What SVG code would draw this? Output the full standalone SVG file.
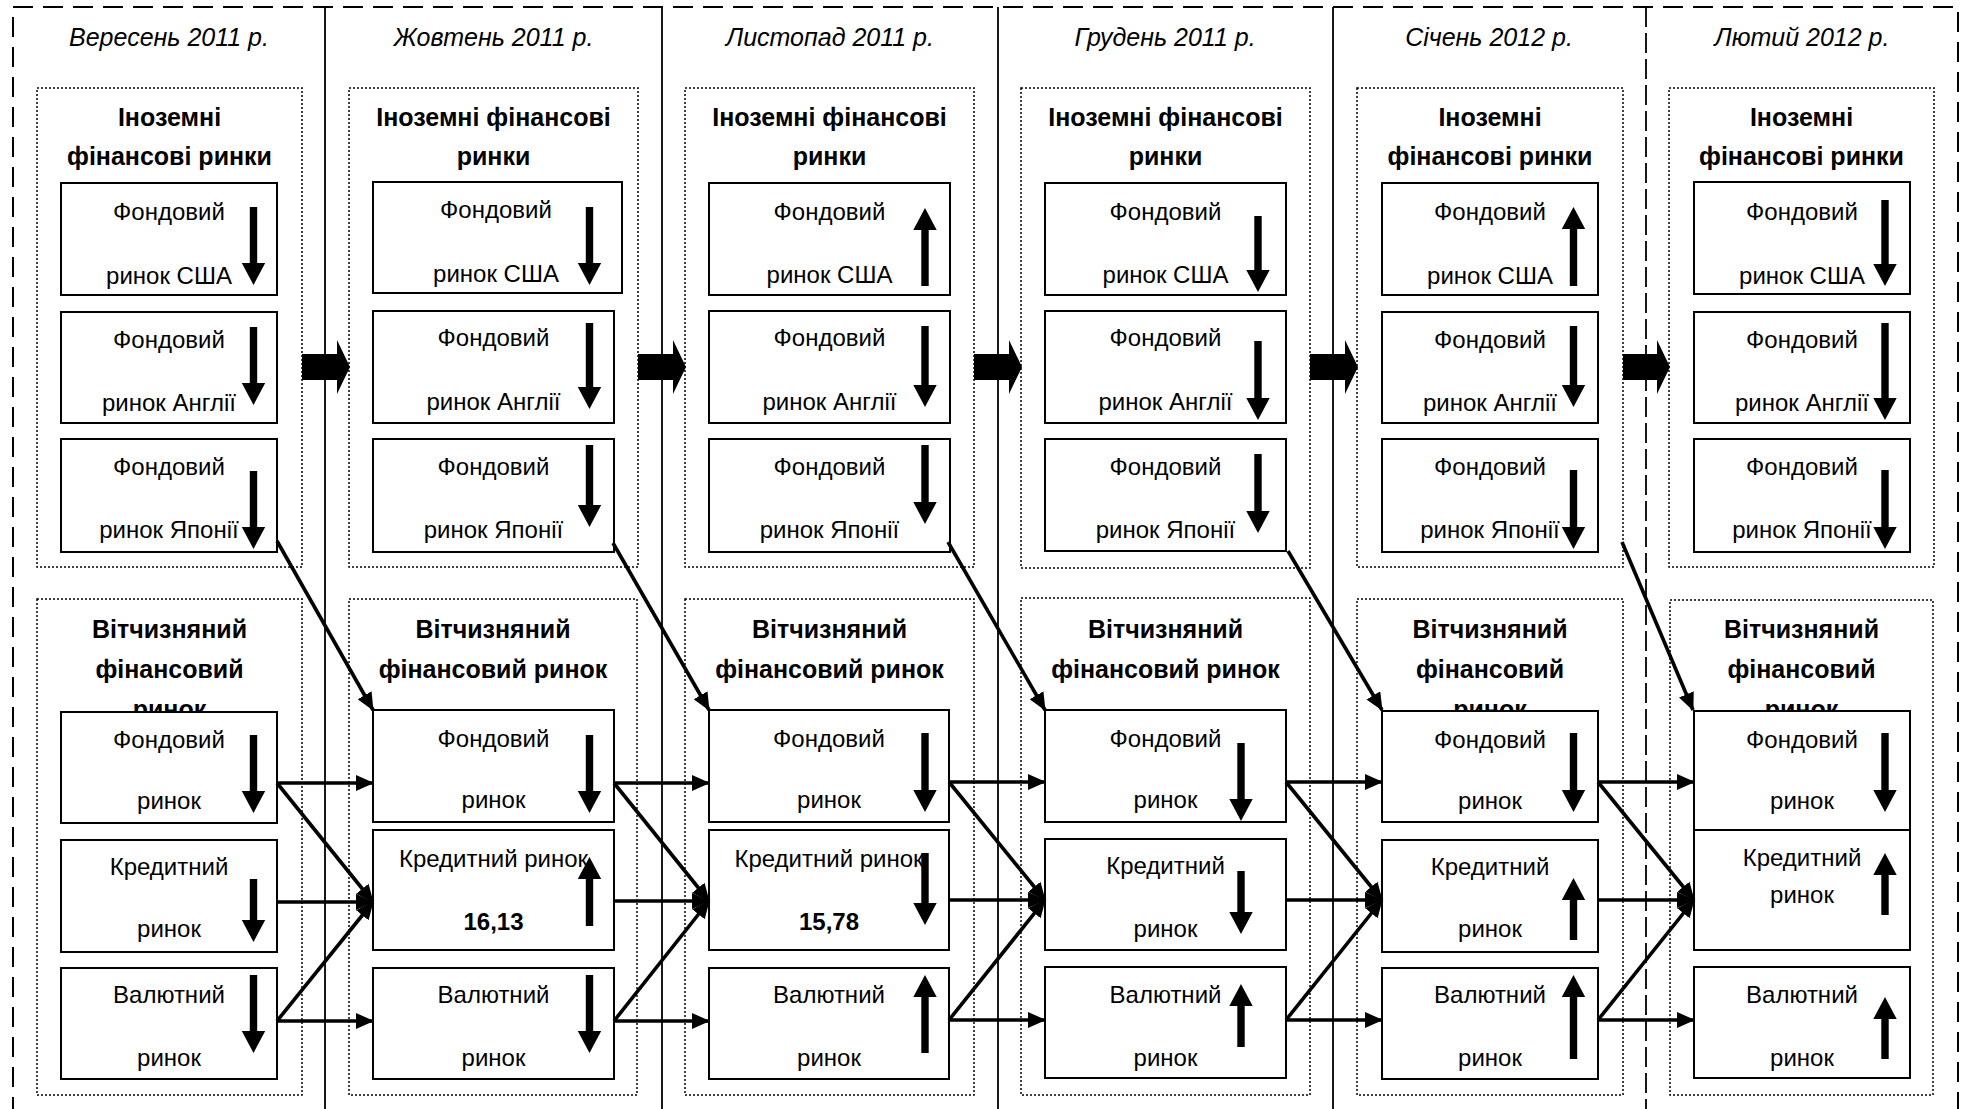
<svg xmlns="http://www.w3.org/2000/svg" width="1966" height="1109" viewBox="0 0 1966 1109">
<style>
text{font-family:"Liberation Sans",Arial,sans-serif;fill:#000;text-anchor:middle}
.hdr{font-size:25px;font-style:italic}
.ttl{font-size:25px;font-weight:bold}
.txt{font-size:24px}
.num{font-size:24px;font-weight:bold}
.box{fill:#fff;stroke:#000;stroke-width:2}
.grp{fill:none;stroke:#000;stroke-width:1.5;stroke-dasharray:2 2}
.tr{fill:#000}
.big{fill:#000}
.conn{stroke:#000;stroke-width:3.6;fill:none;marker-end:url(#ah)}
</style>
<defs>
<marker id="ah" markerUnits="userSpaceOnUse" markerWidth="18" markerHeight="16" refX="17" refY="8" orient="auto">
<path d="M0,0 L18,8 L0,16 z" fill="#000"/>
</marker>
</defs>
<rect fill="#fff" x="0" y="0" width="1966" height="1109"/>
<g id="frame">
<rect x="13" y="7" width="1945" height="1130" fill="none" stroke="#000" stroke-width="2" stroke-dasharray="20 10"/>
<line x1="325" y1="7" x2="325" y2="1109" stroke="#000" stroke-width="1.8"/>
<line x1="662" y1="7" x2="662" y2="1109" stroke="#000" stroke-width="1.8"/>
<line x1="998" y1="7" x2="998" y2="1109" stroke="#000" stroke-width="1.8"/>
<line x1="1333" y1="7" x2="1333" y2="1109" stroke="#000" stroke-width="1.8"/>
<line x1="1646" y1="7" x2="1646" y2="1109" stroke="#000" stroke-width="1.8" stroke-dasharray="20 6"/>
</g>

<!-- Column 1 -->
<g id="col1">
<text class="hdr" x="169" y="46">Вересень 2011 р.</text>
<g id="c1-foreign">
<rect class="grp" x="37" y="88" width="265" height="479"/>
<text class="ttl" x="169.5" y="126">Іноземні</text>
<text class="ttl" x="169.5" y="165">фінансові ринки</text>
</g>
<g id="c1-usa"><rect class="box" x="61" y="183" width="216" height="112"/><text class="txt" x="169" y="220">Фондовий</text><text class="txt" x="169" y="284">ринок США</text><path class="tr" d="M249.8,207 h7.4 V263 h8 l-11.7,22 l-11.7,-22 h8 z"/></g>
<g id="c1-eng"><rect class="box" x="61" y="312" width="216" height="111"/><text class="txt" x="169" y="348">Фондовий</text><text class="txt" x="169" y="411">ринок Англії</text><path class="tr" d="M249.8,327 h7.4 V383 h8 l-11.7,22 l-11.7,-22 h8 z"/></g>
<g id="c1-jap"><rect class="box" x="61" y="439" width="216" height="113"/><text class="txt" x="169" y="475">Фондовий</text><text class="txt" x="169" y="538">ринок Японії</text><path class="tr" d="M249.8,471 h7.4 V527 h8 l-11.7,22 l-11.7,-22 h8 z"/></g>
<g id="c1-domestic">
<rect class="grp" x="37" y="599" width="265" height="496"/>
<text class="ttl" x="169.5" y="638">Вітчизняний</text>
<text class="ttl" x="169.5" y="678">фінансовий</text>
<text class="ttl" x="169.5" y="718">ринок</text>
</g>
<g id="c1-fond"><rect class="box" x="61" y="712" width="216" height="111"/><text class="txt" x="169" y="748">Фондовий</text><text class="txt" x="169" y="809">ринок</text><path class="tr" d="M249.8,735 h7.4 V791 h8 l-11.7,22 l-11.7,-22 h8 z"/></g>
<g id="c1-kred"><rect class="box" x="61" y="840" width="216" height="112"/><text class="txt" x="169" y="875">Кредитний</text><text class="txt" x="169" y="937">ринок</text><path class="tr" d="M249.8,879 h7.4 V920 h8 l-11.7,22 l-11.7,-22 h8 z"/></g>
<g id="c1-val"><rect class="box" x="61" y="968" width="216" height="111"/><text class="txt" x="169" y="1003">Валютний</text><text class="txt" x="169" y="1066">ринок</text><path class="tr" d="M249.8,975 h7.4 V1031 h8 l-11.7,22 l-11.7,-22 h8 z"/></g>
</g>

<!-- Column 2 -->
<g id="col2">
<text class="hdr" x="493.5" y="46">Жовтень 2011 р.</text>
<g id="c2-foreign">
<rect class="grp" x="349" y="88" width="289" height="479"/>
<text class="ttl" x="493.5" y="126">Іноземні фінансові</text>
<text class="ttl" x="493.5" y="165">ринки</text>
</g>
<g id="c2-usa"><rect class="box" x="373" y="182" width="249" height="111"/><text class="txt" x="496" y="218">Фондовий</text><text class="txt" x="496" y="282">ринок США</text><path class="tr" d="M585.8,207 h7.4 V263 h8 l-11.7,22 l-11.7,-22 h8 z"/></g>
<g id="c2-eng"><rect class="box" x="373" y="311" width="241" height="112"/><text class="txt" x="493.5" y="346">Фондовий</text><text class="txt" x="493.5" y="410">ринок Англії</text><path class="tr" d="M585.8,323 h7.4 V387 h8 l-11.7,22 l-11.7,-22 h8 z"/></g>
<g id="c2-jap"><rect class="box" x="373" y="439" width="241" height="113"/><text class="txt" x="493.5" y="475">Фондовий</text><text class="txt" x="493.5" y="538">ринок Японії</text><path class="tr" d="M585.8,445 h7.4 V505 h8 l-11.7,22 l-11.7,-22 h8 z"/></g>
<g id="c2-domestic">
<rect class="grp" x="349" y="599" width="288" height="496"/>
<text class="ttl" x="493" y="638">Вітчизняний</text>
<text class="ttl" x="493" y="678">фінансовий ринок</text>
</g>
<g id="c2-fond"><rect class="box" x="373" y="710" width="241" height="112"/><text class="txt" x="493.5" y="747">Фондовий</text><text class="txt" x="493.5" y="808">ринок</text><path class="tr" d="M585.8,735 h7.4 V791 h8 l-11.7,22 l-11.7,-22 h8 z"/></g>
<g id="c2-kred"><rect class="box" x="373" y="830" width="241" height="120"/><text class="txt" x="493.5" y="867">Кредитний ринок</text><text class="num" x="493.5" y="930">16,13</text><path class="tr" d="M589.5,857 l11.7,22 h-8 V926 h-7.4 V879 h-8 z"/></g>
<g id="c2-val"><rect class="box" x="373" y="968" width="241" height="111"/><text class="txt" x="493.5" y="1003">Валютний</text><text class="txt" x="493.5" y="1066">ринок</text><path class="tr" d="M585.8,975 h7.4 V1031 h8 l-11.7,22 l-11.7,-22 h8 z"/></g>
</g>

<!-- Column 3 -->
<g id="col3">
<text class="hdr" x="830" y="46">Листопад 2011 р.</text>
<g id="c3-foreign">
<rect class="grp" x="685" y="88" width="289" height="479"/>
<text class="ttl" x="829.5" y="126">Іноземні фінансові</text>
<text class="ttl" x="829.5" y="165">ринки</text>
</g>
<g id="c3-usa"><rect class="box" x="709" y="183" width="241" height="112"/><text class="txt" x="829.5" y="220">Фондовий</text><text class="txt" x="829.5" y="283">ринок США</text><path class="tr" d="M925,208 l11.7,22 h-8 V286 h-7.4 V230 h-8 z"/></g>
<g id="c3-eng"><rect class="box" x="709" y="311" width="241" height="112"/><text class="txt" x="829.5" y="346">Фондовий</text><text class="txt" x="829.5" y="410">ринок Англії</text><path class="tr" d="M921.3,326 h7.4 V385 h8 l-11.7,22 l-11.7,-22 h8 z"/></g>
<g id="c3-jap"><rect class="box" x="709" y="439" width="241" height="113"/><text class="txt" x="829.5" y="475">Фондовий</text><text class="txt" x="829.5" y="538">ринок Японії</text><path class="tr" d="M921.3,445 h7.4 V502 h8 l-11.7,22 l-11.7,-22 h8 z"/></g>
<g id="c3-domestic">
<rect class="grp" x="685" y="599" width="289" height="496"/>
<text class="ttl" x="829.5" y="638">Вітчизняний</text>
<text class="ttl" x="829.5" y="678">фінансовий ринок</text>
</g>
<g id="c3-fond"><rect class="box" x="709" y="710" width="240" height="112"/><text class="txt" x="829" y="747">Фондовий</text><text class="txt" x="829" y="808">ринок</text><path class="tr" d="M921.3,733 h7.4 V790 h8 l-11.7,22 l-11.7,-22 h8 z"/></g>
<g id="c3-kred"><rect class="box" x="709" y="830" width="240" height="120"/><text class="txt" x="829" y="867">Кредитний ринок</text><text class="num" x="829" y="930">15,78</text><path class="tr" d="M921.3,853 h7.4 V903 h8 l-11.7,22 l-11.7,-22 h8 z"/></g>
<g id="c3-val"><rect class="box" x="709" y="968" width="240" height="111"/><text class="txt" x="829" y="1003">Валютний</text><text class="txt" x="829" y="1066">ринок</text><path class="tr" d="M925,975 l11.7,22 h-8 V1053 h-7.4 V997 h-8 z"/></g>
</g>

<!-- Column 4 -->
<g id="col4">
<text class="hdr" x="1165" y="46">Грудень 2011 р.</text>
<g id="c4-foreign">
<rect class="grp" x="1021" y="88" width="289" height="480"/>
<text class="ttl" x="1165.5" y="126">Іноземні фінансові</text>
<text class="ttl" x="1165.5" y="165">ринки</text>
</g>
<g id="c4-usa"><rect class="box" x="1045" y="183" width="241" height="112"/><text class="txt" x="1165.5" y="220">Фондовий</text><text class="txt" x="1165.5" y="283">ринок США</text><path class="tr" d="M1254.3,216 h7.4 V270 h8 l-11.7,22 l-11.7,-22 h8 z"/></g>
<g id="c4-eng"><rect class="box" x="1045" y="311" width="241" height="112"/><text class="txt" x="1165.5" y="346">Фондовий</text><text class="txt" x="1165.5" y="410">ринок Англії</text><path class="tr" d="M1254.3,341 h7.4 V398 h8 l-11.7,22 l-11.7,-22 h8 z"/></g>
<g id="c4-jap"><rect class="box" x="1045" y="439" width="241" height="112"/><text class="txt" x="1165.5" y="475">Фондовий</text><text class="txt" x="1165.5" y="538">ринок Японії</text><path class="tr" d="M1254.3,454 h7.4 V511 h8 l-11.7,22 l-11.7,-22 h8 z"/></g>
<g id="c4-domestic">
<rect class="grp" x="1021" y="598" width="289" height="497"/>
<text class="ttl" x="1165.5" y="638">Вітчизняний</text>
<text class="ttl" x="1165.5" y="678">фінансовий ринок</text>
</g>
<g id="c4-fond"><rect class="box" x="1045" y="710" width="241" height="112"/><text class="txt" x="1165.5" y="747">Фондовий</text><text class="txt" x="1165.5" y="808">ринок</text><path class="tr" d="M1237.3,743 h7.4 V799 h8 l-11.7,22 l-11.7,-22 h8 z"/></g>
<g id="c4-kred"><rect class="box" x="1045" y="839" width="241" height="111"/><text class="txt" x="1165.5" y="874">Кредитний</text><text class="txt" x="1165.5" y="937">ринок</text><path class="tr" d="M1237.3,871 h7.4 V912 h8 l-11.7,22 l-11.7,-22 h8 z"/></g>
<g id="c4-val"><rect class="box" x="1045" y="967" width="241" height="111"/><text class="txt" x="1165.5" y="1003">Валютний</text><text class="txt" x="1165.5" y="1066">ринок</text><path class="tr" d="M1241,984 l11.7,22 h-8 V1047 h-7.4 V1006 h-8 z"/></g>
</g>

<!-- Column 5 -->
<g id="col5">
<text class="hdr" x="1489" y="46">Січень 2012 р.</text>
<g id="c5-foreign">
<rect class="grp" x="1357" y="88" width="266" height="479"/>
<text class="ttl" x="1490" y="126">Іноземні</text>
<text class="ttl" x="1490" y="165">фінансові ринки</text>
</g>
<g id="c5-usa"><rect class="box" x="1382" y="183" width="216" height="112"/><text class="txt" x="1490" y="220">Фондовий</text><text class="txt" x="1490" y="284">ринок США</text><path class="tr" d="M1573.5,207 l11.7,22 h-8 V286 h-7.4 V229 h-8 z"/></g>
<g id="c5-eng"><rect class="box" x="1382" y="312" width="216" height="111"/><text class="txt" x="1490" y="348">Фондовий</text><text class="txt" x="1490" y="411">ринок Англії</text><path class="tr" d="M1569.8,326 h7.4 V385 h8 l-11.7,22 l-11.7,-22 h8 z"/></g>
<g id="c5-jap"><rect class="box" x="1382" y="439" width="216" height="113"/><text class="txt" x="1490" y="475">Фондовий</text><text class="txt" x="1490" y="538">ринок Японії</text><path class="tr" d="M1569.8,470 h7.4 V527 h8 l-11.7,22 l-11.7,-22 h8 z"/></g>
<g id="c5-domestic">
<rect class="grp" x="1357" y="599" width="266" height="496"/>
<text class="ttl" x="1490" y="638">Вітчизняний</text>
<text class="ttl" x="1490" y="678">фінансовий</text>
<text class="ttl" x="1490" y="718">ринок</text>
</g>
<g id="c5-fond"><rect class="box" x="1382" y="711" width="216" height="111"/><text class="txt" x="1490" y="748">Фондовий</text><text class="txt" x="1490" y="809">ринок</text><path class="tr" d="M1569.8,733 h7.4 V790 h8 l-11.7,22 l-11.7,-22 h8 z"/></g>
<g id="c5-kred"><rect class="box" x="1382" y="840" width="216" height="112"/><text class="txt" x="1490" y="875">Кредитний</text><text class="txt" x="1490" y="937">ринок</text><path class="tr" d="M1573.5,878 l11.7,22 h-8 V940 h-7.4 V900 h-8 z"/></g>
<g id="c5-val"><rect class="box" x="1382" y="968" width="216" height="111"/><text class="txt" x="1490" y="1003">Валютний</text><text class="txt" x="1490" y="1066">ринок</text><path class="tr" d="M1573.5,975 l11.7,22 h-8 V1059 h-7.4 V997 h-8 z"/></g>
</g>

<!-- Column 6 -->
<g id="col6">
<text class="hdr" x="1802" y="46">Лютий 2012 р.</text>
<g id="c6-foreign">
<rect class="grp" x="1669" y="88" width="265" height="479"/>
<text class="ttl" x="1801.5" y="126">Іноземні</text>
<text class="ttl" x="1801.5" y="165">фінансові ринки</text>
</g>
<g id="c6-usa"><rect class="box" x="1694" y="182" width="216" height="112"/><text class="txt" x="1802" y="220">Фондовий</text><text class="txt" x="1802" y="284">ринок США</text><path class="tr" d="M1881.3,200 h7.4 V264 h8 l-11.7,22 l-11.7,-22 h8 z"/></g>
<g id="c6-eng"><rect class="box" x="1694" y="312" width="216" height="111"/><text class="txt" x="1802" y="348">Фондовий</text><text class="txt" x="1802" y="411">ринок Англії</text><path class="tr" d="M1881.3,323 h7.4 V398 h8 l-11.7,22 l-11.7,-22 h8 z"/></g>
<g id="c6-jap"><rect class="box" x="1694" y="439" width="216" height="113"/><text class="txt" x="1802" y="475">Фондовий</text><text class="txt" x="1802" y="538">ринок Японії</text><path class="tr" d="M1881.3,470 h7.4 V527 h8 l-11.7,22 l-11.7,-22 h8 z"/></g>
<g id="c6-domestic">
<rect class="grp" x="1670" y="600" width="263" height="495"/>
<text class="ttl" x="1801.5" y="638">Вітчизняний</text>
<text class="ttl" x="1801.5" y="678">фінансовий</text>
<text class="ttl" x="1801.5" y="718">ринок</text>
</g>
<g id="c6-fond"><rect class="box" x="1694" y="711" width="216" height="119"/><text class="txt" x="1802" y="748">Фондовий</text><text class="txt" x="1802" y="809">ринок</text><path class="tr" d="M1881.3,733 h7.4 V790 h8 l-11.7,22 l-11.7,-22 h8 z"/></g>
<g id="c6-kred"><rect class="box" x="1694" y="830" width="216" height="120"/><text class="txt" x="1802" y="866">Кредитний</text><text class="txt" x="1802" y="903">ринок</text><path class="tr" d="M1885,853 l11.7,22 h-8 V915 h-7.4 V875 h-8 z"/></g>
<g id="c6-val"><rect class="box" x="1694" y="967" width="216" height="111"/><text class="txt" x="1802" y="1003">Валютний</text><text class="txt" x="1802" y="1066">ринок</text><path class="tr" d="M1885,997 l11.7,22 h-8 V1059 h-7.4 V1019 h-8 z"/></g>
</g>

<!-- Connectors -->
<g id="connectors">
<path class="big" d="M302,354 h35 v-14 l13,27 l-13,27 v-14 h-35 z"/>
<path class="big" d="M638,354 h35 v-14 l13,27 l-13,27 v-14 h-35 z"/>
<path class="big" d="M974,354 h35 v-14 l13,27 l-13,27 v-14 h-35 z"/>
<path class="big" d="M1310,354 h35 v-14 l13,27 l-13,27 v-14 h-35 z"/>
<path class="big" d="M1623,354 h34 v-14 l13,27 l-13,27 v-14 h-34 z"/>

<line class="conn" x1="277" y1="541" x2="373" y2="710"/>
<line class="conn" x1="613" y1="543" x2="709" y2="710"/>
<line class="conn" x1="948" y1="542" x2="1045" y2="710"/>
<line class="conn" x1="1288" y1="551" x2="1382" y2="710"/>
<line class="conn" x1="1622" y1="542" x2="1693" y2="710"/>

<line class="conn" x1="277" y1="783" x2="373" y2="783"/>
<line class="conn" x1="277" y1="902" x2="373" y2="902"/>
<line class="conn" x1="277" y1="1021" x2="373" y2="1021"/>
<line class="conn" x1="277" y1="783" x2="373" y2="902"/>
<line class="conn" x1="277" y1="1021" x2="373" y2="902"/>

<line class="conn" x1="614" y1="783" x2="709" y2="783"/>
<line class="conn" x1="614" y1="901" x2="709" y2="901"/>
<line class="conn" x1="614" y1="1021" x2="709" y2="1021"/>
<line class="conn" x1="614" y1="783" x2="709" y2="901"/>
<line class="conn" x1="614" y1="1021" x2="709" y2="901"/>

<line class="conn" x1="949" y1="782" x2="1045" y2="782"/>
<line class="conn" x1="949" y1="900" x2="1045" y2="900"/>
<line class="conn" x1="949" y1="1020" x2="1045" y2="1020"/>
<line class="conn" x1="949" y1="782" x2="1045" y2="900"/>
<line class="conn" x1="949" y1="1020" x2="1045" y2="900"/>

<line class="conn" x1="1286" y1="782" x2="1382" y2="782"/>
<line class="conn" x1="1286" y1="900" x2="1382" y2="900"/>
<line class="conn" x1="1286" y1="1020" x2="1382" y2="1020"/>
<line class="conn" x1="1286" y1="782" x2="1382" y2="900"/>
<line class="conn" x1="1286" y1="1020" x2="1382" y2="900"/>

<line class="conn" x1="1598" y1="782" x2="1694" y2="782"/>
<line class="conn" x1="1598" y1="900" x2="1694" y2="900"/>
<line class="conn" x1="1598" y1="1020" x2="1694" y2="1020"/>
<line class="conn" x1="1598" y1="782" x2="1694" y2="900"/>
<line class="conn" x1="1598" y1="1020" x2="1694" y2="900"/>
</g>
</svg>
